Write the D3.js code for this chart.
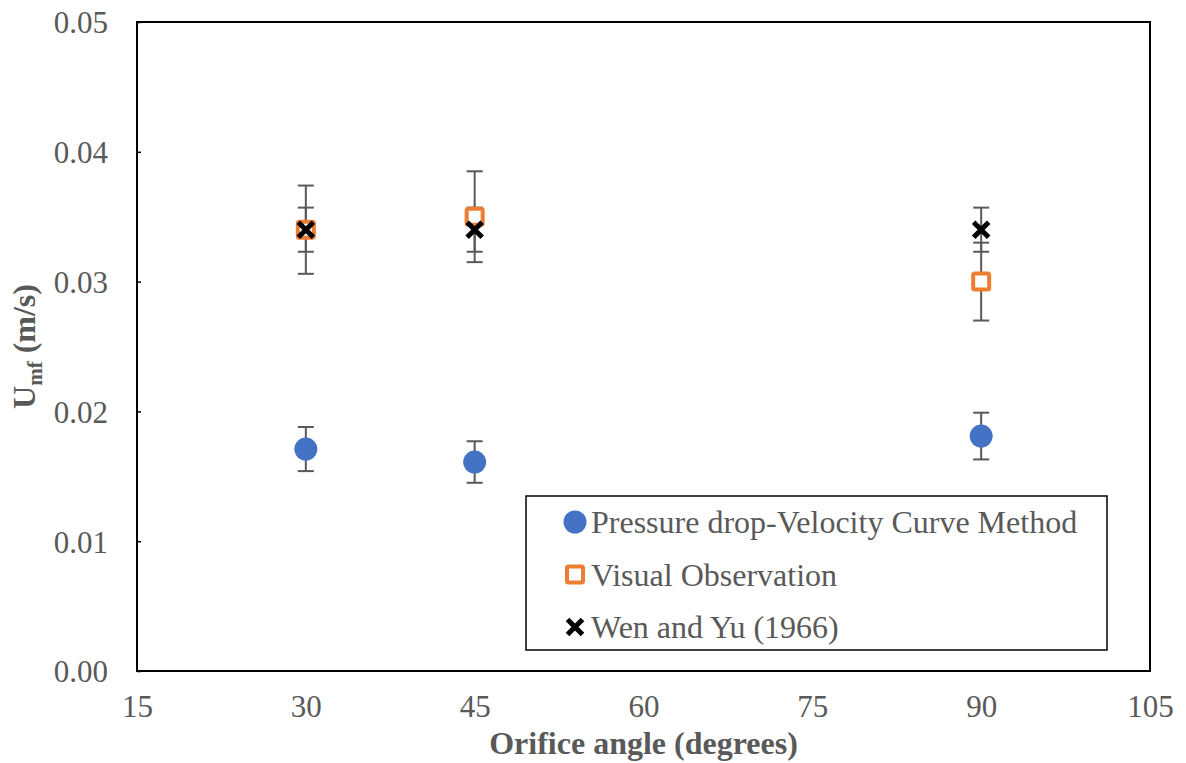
<!DOCTYPE html>
<html>
<head>
<meta charset="utf-8">
<script src="https://cdn.jsdelivr.net/npm/d3@7"></script>
<style>
  body { margin: 0; background: #fff; }
  text { font-family: "Liberation Serif", "Times New Roman", serif; }
</style>
</head>
<body>
<div id="chartDiv"></div>
<script>
// data
var angles = [30, 45, 90];
var seriesNames = ['Pressure drop-Velocity Curve Method', 'Visual Observation', 'Wen and Yu (1966)'];
var pressureDrop = [0.0171, 0.0161, 0.0181];
var pressureDropErr = [0.0017, 0.0016, 0.0018];
var visualObs = [0.034, 0.035, 0.030];
var visualObsErr = [0.0034, 0.0035, 0.0030];
var wenYu = [0.034, 0.034, 0.034];
var wenYuErr = [0.0017, 0.0017, 0.0017];
var xTicks = [15, 30, 45, 60, 75, 90, 105];
var yTicks = [0, 0.01, 0.02, 0.03, 0.04, 0.05];

function buildChart() {
  var w = 1186, h = 763,
    pLeft = 137, pTop = 22, pRight = 1150, pBottom = 671;

  var svg = d3.select('#chartDiv').append('svg')
    .attr('width', w)
    .attr('height', h);

  var xScale = d3.scaleLinear().domain([15, 105]).range([pLeft, pRight]);
  var yScale = d3.scaleLinear().domain([0, 0.05]).range([pBottom, pTop]);

  // axes: labels only, tiny inside ticks on y
  var xAxis = d3.axisBottom(xScale).tickValues(xTicks).tickSize(0).tickPadding(24).tickFormat(d3.format('d'));
  var yAxis = d3.axisLeft(yScale).tickValues(yTicks).tickSize(-4).tickPadding(29).tickFormat(d3.format('.2f'));

  var gx = svg.append('g').attr('transform', 'translate(0,' + pBottom + ')').call(xAxis);
  var gy = svg.append('g').attr('transform', 'translate(' + pLeft + ',0)').call(yAxis);
  [gx, gy].forEach(function(g) {
    g.select('.domain').remove();
    g.selectAll('.tick line').attr('stroke', '#000').attr('stroke-width', 1.5);
    g.selectAll('text')
      .attr('fill', '#595959')
      .style('font-size', '31px')
      .style('font-family', '"Liberation Serif", serif');
  });
  gy.selectAll('text').attr('dy', '0.35em').attr('x', -29);

  // plot area border
  svg.append('rect')
    .attr('x', pLeft).attr('y', pTop)
    .attr('width', pRight - pLeft).attr('height', pBottom - pTop)
    .attr('fill', 'none').attr('stroke', '#000').attr('stroke-width', 2);

  var series = [
    { vals: pressureDrop, err: pressureDropErr, kind: 'circle' },
    { vals: visualObs, err: visualObsErr, kind: 'square' },
    { vals: wenYu, err: wenYuErr, kind: 'cross' }
  ];

  // error bars go under the markers
  var eb = svg.append('g').attr('stroke', '#595959').attr('stroke-width', 2);
  series.forEach(function(s) {
    angles.forEach(function(a, i) {
      var x = xScale(a), y0 = yScale(s.vals[i] - s.err[i]), y1 = yScale(s.vals[i] + s.err[i]);
      eb.append('line').attr('x1', x).attr('x2', x).attr('y1', y0).attr('y2', y1);
      eb.append('line').attr('x1', x - 8).attr('x2', x + 8).attr('y1', y0).attr('y2', y0);
      eb.append('line').attr('x1', x - 8).attr('x2', x + 8).attr('y1', y1).attr('y2', y1);
    });
  });

  var marks = svg.append('g');
  series.forEach(function(s) {
    angles.forEach(function(a, i) {
      drawMarker(marks, s.kind, xScale(a), yScale(s.vals[i]));
    });
  });

  // legend
  var lg = svg.append('g');
  lg.append('rect').attr('x', 526).attr('y', 496).attr('width', 581).attr('height', 154)
    .attr('fill', '#fff').attr('stroke', '#000').attr('stroke-width', 1.5);
  seriesNames.forEach(function(name, i) {
    var cy = 522 + i * 52.5;
    drawMarker(lg, series[i].kind, 575, cy);
    lg.append('text').attr('x', 591).attr('y', cy).attr('dy', '0.35em')
      .attr('fill', '#595959').style('font-size', '32px').text(name);
  });

  // axis titles
  svg.append('text')
    .attr('x', (pLeft + pRight) / 2).attr('y', 754)
    .attr('text-anchor', 'middle').attr('fill', '#595959')
    .style('font-size', '32px').style('font-weight', 'bold')
    .text('Orifice angle (degrees)');

  var yt = svg.append('text')
    .attr('transform', 'translate(35,' + ((pTop + pBottom) / 2) + ') rotate(-90)')
    .attr('text-anchor', 'middle').attr('fill', '#595959')
    .style('font-size', '32px').style('font-weight', 'bold');
  yt.append('tspan').text('U');
  yt.append('tspan').attr('dy', 7).style('font-size', '21px').text('mf');
  yt.append('tspan').attr('dy', -7).text(' (m/s)');
}

function drawMarker(g, kind, x, y) {
  if (kind === 'circle') {
    g.append('circle').attr('cx', x).attr('cy', y).attr('r', 11.5).attr('fill', '#4472C4');
  } else if (kind === 'square') {
    g.append('rect').attr('x', x - 8).attr('y', y - 8).attr('width', 16).attr('height', 16)
      .attr('rx', 1.5)
      .attr('fill', '#fff').attr('stroke', '#ED7D31').attr('stroke-width', 4);
  } else {
    var k = 7.5;
    g.append('path').attr('d', 'M' + (x - k) + ',' + (y - k) + 'L' + (x + k) + ',' + (y + k) +
      'M' + (x + k) + ',' + (y - k) + 'L' + (x - k) + ',' + (y + k))
      .attr('stroke', '#000').attr('stroke-width', 5).attr('fill', 'none');
  }
}

buildChart();
</script>
</body>
</html>
